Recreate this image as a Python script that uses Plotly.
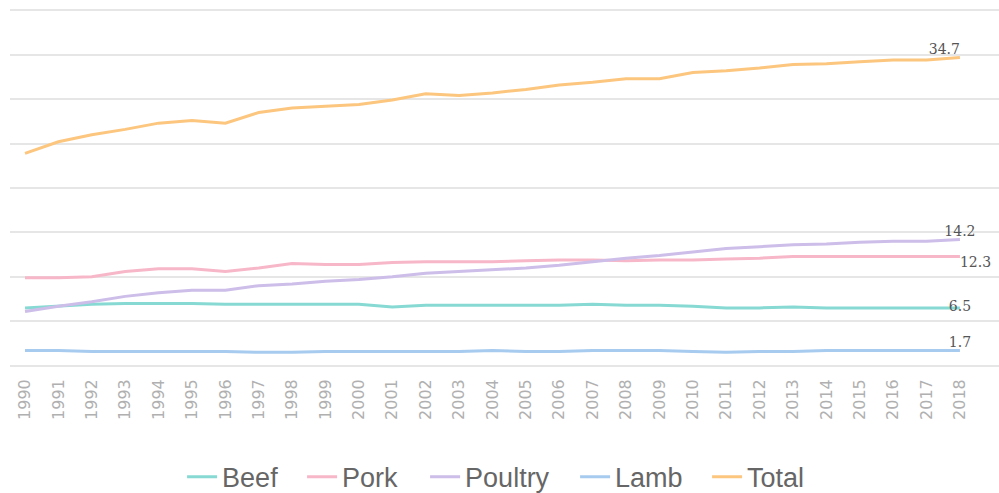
import plotly.graph_objects as go

years = list(range(1990, 2019))

beef = [6.5, 6.7, 6.9, 7.0, 7.0, 7.0, 6.9, 6.9, 6.9, 6.9, 6.9, 6.6, 6.8, 6.8, 6.8,
        6.8, 6.8, 6.9, 6.8, 6.8, 6.7, 6.5, 6.5, 6.6, 6.5, 6.5, 6.5, 6.5, 6.5]
pork = [9.9, 9.9, 10.0, 10.6, 10.9, 10.9, 10.6, 11.0, 11.5, 11.4, 11.4, 11.6, 11.7, 11.7, 11.7,
        11.8, 11.9, 11.9, 11.8, 11.9, 11.9, 12.0, 12.1, 12.3, 12.3, 12.3, 12.3, 12.3, 12.3]
poultry = [6.1, 6.7, 7.2, 7.8, 8.2, 8.5, 8.5, 9.0, 9.2, 9.5, 9.7, 10.0, 10.4, 10.6, 10.8,
           11.0, 11.3, 11.7, 12.1, 12.4, 12.8, 13.2, 13.4, 13.6, 13.7, 13.9, 14.0, 14.0, 14.2]
lamb = [1.7, 1.7, 1.6, 1.6, 1.6, 1.6, 1.6, 1.5, 1.5, 1.6, 1.6, 1.6, 1.6, 1.6, 1.7,
        1.6, 1.6, 1.7, 1.7, 1.7, 1.6, 1.5, 1.6, 1.6, 1.7, 1.7, 1.7, 1.7, 1.7]
total = [23.9, 25.2, 26.0, 26.6, 27.3, 27.6, 27.3, 28.5, 29.0, 29.2, 29.4, 29.9, 30.6, 30.4, 30.7,
         31.1, 31.6, 31.9, 32.3, 32.3, 33.0, 33.2, 33.5, 33.9, 34.0, 34.2, 34.4, 34.4, 34.7]

# name, values, colour, label position, legend entry width
series = [
    ("Beef", beef, "#86dad3", "middle center", 75),
    ("Pork", pork, "#f7b7c9", "bottom right", 78),
    ("Poultry", poultry, "#cdbde9", "top center", 105),
    ("Lamb", lamb, "#a6cbef", "top center", 87),
    ("Total", total, "#fcc67f", "top left", 80),
]

fig = go.Figure()
for name, vals, color, tpos, lw in series:
    # only the final year carries a value label
    labels = [""] * (len(vals) - 1) + [f"{vals[-1]:.1f}"]
    fig.add_trace(go.Scatter(
        x=years, y=vals, name=name, mode="lines+text",
        line=dict(color=color, width=3),
        text=labels, textposition=tpos,
        textfont=dict(family="DejaVu Serif", size=14, color="#555555"),
        legendwidth=lw,
        hoverinfo="skip",
    ))

fig.update_layout(
    width=999, height=493,
    margin=dict(l=10, r=0, t=9, b=126, autoexpand=False),
    paper_bgcolor="white", plot_bgcolor="white",
    showlegend=True,
    legend=dict(orientation="h", x=0.174, xanchor="left", y=-0.308, yanchor="middle",
                font=dict(family="Liberation Sans", size=27, color="#666666"),
                tracegroupgap=0),
    xaxis=dict(range=[1989.55, 2019.17], tickmode="array", tickvals=years,
               ticktext=[str(y) for y in years], tickangle=-90,
               showgrid=False, zeroline=False, showline=False, ticks="",
               automargin=False, ticklabelstandoff=8,
               tickfont=dict(family="DejaVu Sans", size=16, color="#b0b0b0")),
    yaxis=dict(range=[-0.15, 40.15], tickmode="linear", tick0=0, dtick=5,
               showticklabels=False, ticks="",
               showgrid=True, gridcolor="#e6e6e6", gridwidth=2,
               zeroline=False, showline=False, automargin=False),
)

fig.write_html("out.html")
